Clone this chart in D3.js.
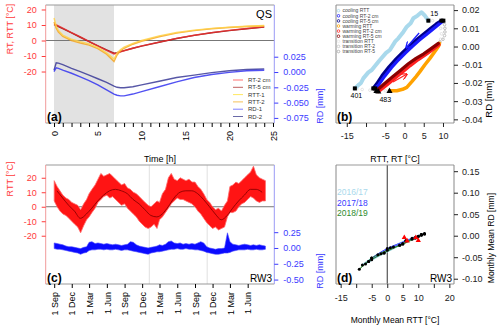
<!DOCTYPE html>
<html>
<head>
<meta charset="utf-8">
<script src="https://cdn.jsdelivr.net/npm/d3@7"></script>
<style>
    body { margin: 0; background: #ffffff; }
    svg text { font-family: "Liberation Sans", Arial, Helvetica, sans-serif; }
</style>
</head>
<body>
<div id="chart"></div>
<script>
//------------------------------- DATA -------------------------------

// (a) QS lab test, 24 h
var qsHours = [0, 0.25, 0.5, 1, 2, 3, 4, 5, 6, 6.85, 7.2, 7.6, 8, 9, 10, 12, 14, 16, 18, 20, 22, 24];
var qsRT2  = [10.8, 10.1, 9.4, 8.0, 5.1, 2.3, -0.6, -3.4, -6.3, -8.7, -8.1, -7.3, -6.6, -5.0, -3.5, -1.0, 1.4, 3.4, 5.1, 6.5, 7.7, 8.8];
var qsRT5  = [10.3, 9.7, 9.0, 7.7, 4.9, 2.1, -0.7, -3.4, -6.1, -8.2, -7.8, -7.1, -6.5, -5.0, -3.6, -1.1, 1.3, 3.3, 5.0, 6.4, 7.6, 8.6];
var qsRTT1 = [14.5, 9.5, 6.5, 3.5, 0.8, -0.8, -2.2, -4.5, -8.0, -12.0, -8.0, -5.8, -4.3, -1.8, 0.0, 3.0, 5.2, 6.7, 7.8, 8.6, 9.2, 9.7];
var qsRTT2 = [12.0, 8.0, 5.5, 2.6, 0.0, -1.6, -3.0, -5.2, -8.8, -13.6, -9.3, -6.6, -5.0, -2.4, -0.5, 2.4, 4.8, 6.4, 7.6, 8.4, 9.0, 9.4];
var qsRD1  = [0.0005, 0.007, 0.006, 0.003, -0.002, -0.008, -0.014, -0.021, -0.029, -0.036, -0.038, -0.039, -0.039, -0.036, -0.032, -0.024, -0.016, -0.009, -0.004, -0.0005, 0.002, 0.003];
var qsRD2  = [0.003, 0.015, 0.0145, 0.012, 0.006, 0.0005, -0.005, -0.011, -0.017, -0.023, -0.025, -0.0258, -0.0258, -0.024, -0.021, -0.015, -0.009, -0.005, -0.001, 0.002, 0.004, 0.005];
var qsCooling = [0, 6.85];
var qsNames = ["RT-2 cm", "RT-5 cm", "RTT-1", "RTT-2", "RD-1", "RD-2"];

// (b) hysteresis of the QS test  [temperature, RD]
var hysCoolRTT = [[6.2,0.0142],[5.2,0.0172],[4.4,0.0188],[3.4,0.0170],[2.3,0.0155],[1.6,0.0128],[0.6,0.0109],[-0.3,0.0080],[-1.6,0.0045],[-2.4,0.0028],[-3.8,-0.0019],[-4.8,-0.0035],[-6.4,-0.0074],[-7.2,-0.0095],[-8.5,-0.0129],[-9.4,-0.0142],[-10.7,-0.0175],[-11.3,-0.0200],[-12.0,-0.0212],[-12.9,-0.0230]];
var hysCoolRT2 = [[10.1,0.0142],[8.8,0.0120],[7.2,0.0092],[5.6,0.0064],[3.8,0.0034],[2.0,0.0000],[0.2,-0.0036],[-1.6,-0.0074],[-3.4,-0.0116],[-5.2,-0.0164],[-6.6,-0.0207],[-7.6,-0.0230]];
var hysCoolRT5 = [[9.6,0.0142],[8.2,0.0122],[6.6,0.0095],[5.0,0.0068],[3.2,0.0038],[1.4,0.0004],[-0.4,-0.0032],[-2.2,-0.0070],[-4.0,-0.0112],[-5.8,-0.0160],[-7.2,-0.0205],[-8.1,-0.0230]];
var hysWarmRTT = [[-3.9,-0.0243],[-2.0,-0.0243],[-0.5,-0.0235],[0.6,-0.0224],[1.9,-0.0193],[3.0,-0.0165],[4.0,-0.0138],[5.3,-0.0100],[6.6,-0.0065],[7.8,-0.0030],[8.8,0.0000],[9.1,0.0017]];
var hysWarmRT2 = [[-6.8,-0.0248],[-4.5,-0.0210],[-2.5,-0.0175],[-0.5,-0.0140],[1.5,-0.0105],[3.5,-0.0073],[5.5,-0.0045],[7.5,-0.0015],[9.0,0.0010]];
var hysWarmRT5 = [[-7.3,-0.0243],[-5.0,-0.0200],[-3.0,-0.0165],[-1.0,-0.0130],[1.0,-0.0095],[3.0,-0.0065],[5.0,-0.0040],[7.0,-0.0010],[8.8,0.0017]];
var hysTransRTT = [[-12.4,-0.0233],[-11,-0.0236],[-9,-0.024],[-7,-0.0242],[-5,-0.0243],[9.4,0.004],[9.6,0.007],[9.4,0.010],[8.5,0.013],[7.3,0.0142]];
var hysTransRT = [[9.2,0.0025],[10.0,0.004],[10.4,0.006],[10.5,0.008],[10.5,0.010],[10.4,0.012],[10.2,0.0135],[-8.0,-0.0236],[-7.6,-0.0240]];
var hysStarts = [[6.2,0.0142],[9.6,0.0142],[10.1,0.0142],[-12.9,-0.0230],[-8.1,-0.0230],[-7.6,-0.0230]];
var hysTurns = [[-7.3,-0.0245],[-6.8,-0.0248],[-3.9,-0.0245]];
var hysHourLabels = [["15", 7.7, 0.0165], ["401", -12.5, -0.0283], ["483", -5.0, -0.0305]];
var hysArrows = [[[3.8,0.0074],[0.4,-0.0008]], [[-3.0,-0.0195],[0.65,-0.0151]]];
var hysNames = ["cooling RTT","cooling RT-2 cm","cooling RT-5 cm","warming RTT","warming RT-2 cm","warming RT-5 cm","transition RTT","transition RT-2","transition RT-5"];

// (c) RW3 field series, half-monthly envelope from 1 Sep 2016 to 1 Sep 2019
var rttHi = [18,14,11,8,6,5,3,2,1,-2,2,5,9,12,15,19,23,21,22,23,21,19,17,15,16,13,12,10,9,7,5,3,1,0,2,4,3,9,12,20,23,19,18,20,19,18,19,17,17,14,12,9,5,3,0,-2,-1,-3,1,4,14,15,17,16,18,20,22,24,28,22,20,19,18];
var rttLo = [4,0,-3,-5,-6,-8,-10,-12,-14,-18,-13,-9,-7,-4,-1,3,5,7,8,6,7,5,3,1,2,-1,-3,-5,-7,-10,-12,-14,-15,-14,-12,-15,-9,-7,-4,-1,2,4,6,5,5,4,3,2,0,-3,-5,-8,-11,-13,-15,-14,-16,-15,-14,-7,-4,-4,-3,0,2,3,5,7,6,4,3,4,4];
var rdHi = [0.08,0.07,0.06,0.05,0.03,0.02,0.02,0.01,0.0,-0.01,0.01,0.02,0.09,0.10,0.07,0.08,0.07,0.06,0.07,0.06,0.05,0.06,0.05,0.04,0.05,0.06,0.10,0.09,0.05,0.03,0.02,0.01,0.0,0.01,0.02,0.03,0.05,0.04,0.06,0.10,0.11,0.08,0.07,0.08,0.06,0.07,0.06,0.07,0.06,0.08,0.10,0.08,0.02,0.0,-0.01,-0.02,-0.01,-0.01,0.0,0.24,0.10,0.06,0.05,0.04,0.05,0.06,0.05,0.04,0.05,0.04,0.05,0.04,0.03];
var rdLo = [-0.01,-0.02,-0.02,-0.03,-0.04,-0.05,-0.06,-0.07,-0.08,-0.10,-0.08,-0.07,-0.04,-0.03,-0.03,-0.02,-0.02,-0.03,-0.02,-0.03,-0.03,-0.02,-0.03,-0.04,-0.03,-0.03,-0.04,-0.05,-0.06,-0.07,-0.08,-0.09,-0.10,-0.08,-0.07,-0.06,-0.06,-0.05,-0.04,-0.03,-0.02,-0.02,-0.01,-0.02,-0.02,-0.01,-0.02,-0.02,-0.03,-0.03,-0.04,-0.05,-0.07,-0.08,-0.09,-0.10,-0.10,-0.09,-0.08,-0.08,-0.07,-0.05,-0.04,-0.03,-0.03,-0.03,-0.02,-0.03,-0.03,-0.02,-0.03,-0.03,-0.02];
var rttMonthly = [11,6,1,-3,-8,-5,-1,4,8,11,12,11, 9,5,2,-2,-6,-7,-5,0,6,10,11,11, 9,5,0,-5,-9,-6,-1,4,8,12,12,10];
var rwMarkDates = ["2018-01-07", "2018-11-03"];

// (d) monthly means per year (Sep..Aug)
var mmYears = ["2016/17", "2017/18", "2018/19"];
var mmRD1617 = [0.003,-0.012,-0.028,-0.044,-0.068,-0.056,-0.040,-0.022,-0.006,0.002,0.005,0.002];
var mmRD1718 = [-0.004,-0.018,-0.026,-0.042,-0.060,-0.066,-0.052,-0.030,-0.012,-0.001,0.002,0.001];
var mmRD1819 = [-0.006,-0.020,-0.034,-0.052,-0.078,-0.060,-0.040,-0.022,-0.008,0.004,0.004,-0.002];
var mmRedMarks = [[5.5,-0.004],[6.4,-0.012],[9.2,-0.004],[10.0,-0.011]];

//------------------------------- DRAWING -------------------------------

function fmt(p) {
    var f = d3.format(p);
    return function(d) { return f(d).replace("\u2212", "-"); };
}

function init() {
    var svg = d3.select("#chart").append("svg")
                .attr("width", 500)
                .attr("height", 330);

    var boxA = {x0: 45.7, x1: 274.3, y0: 5, y1: 123};
    var boxB = {x0: 336, x1: 454, y0: 5, y1: 123};
    var boxC = {x0: 45.7, x1: 274.3, y0: 165, y1: 284};
    var boxD = {x0: 336, x1: 454, y0: 165, y1: 284};

    var defs = svg.append("defs");
    [["clipA", boxA], ["clipB", boxB], ["clipC", boxC], ["clipD", boxD]].forEach(function(c) {
        defs.append("clipPath").attr("id", c[0]).append("rect")
            .attr("x", c[1].x0).attr("y", c[1].y0)
            .attr("width", c[1].x1 - c[1].x0).attr("height", c[1].y1 - c[1].y0);
    });
    ["#1a1aff", "#ff2020"].forEach(function(col, i) {
        defs.append("marker").attr("id", "arr" + i)
            .attr("viewBox", "0 0 10 10").attr("refX", 9).attr("refY", 5)
            .attr("markerWidth", 5).attr("markerHeight", 5).attr("orient", "auto")
            .append("path").attr("d", "M0,0 L10,5 L0,10").attr("fill", "none")
            .attr("stroke", col).attr("stroke-width", 2);
    });

    function styleAxis(g, col, size) {
        g.attr("font-size", size || 9)
         .attr("font-family", "Liberation Sans, Arial, sans-serif")
         .attr("color", col);
        g.select(".domain").remove();
    }

    function frame(b, leftCol, rightCol) {
        var g = svg.append("g").attr("fill", "none").attr("stroke-width", 1);
        g.append("line").attr("x1", b.x0).attr("x2", b.x1).attr("y1", b.y0).attr("y2", b.y0).attr("stroke", "#999");
        g.append("line").attr("x1", b.x0).attr("x2", b.x1).attr("y1", b.y1).attr("y2", b.y1).attr("stroke", "#999");
        g.append("line").attr("x1", b.x0).attr("x2", b.x0).attr("y1", b.y0).attr("y2", b.y1).attr("stroke", leftCol);
        g.append("line").attr("x1", b.x1).attr("x2", b.x1).attr("y1", b.y0).attr("y2", b.y1).attr("stroke", rightCol);
    }

    function label(x, y, txt, opts) {
        var t = svg.append("text").attr("x", x).attr("y", y).text(txt)
            .attr("font-size", opts.size || 9)
            .attr("fill", opts.color || "#000")
            .attr("text-anchor", opts.anchor || "middle");
        if (opts.bold) t.attr("font-weight", "bold");
        if (opts.rotate) t.attr("transform", "rotate(-90," + x + "," + y + ")");
        return t;
    }

    //-------- PANEL (a): QS --------
    var xA = d3.scaleLinear().domain([-0.95, 25.15]).range([boxA.x0, boxA.x1]);
    var yA = d3.scaleLinear().domain([-53.2, 22.9]).range([boxA.y1, boxA.y0]);
    var yARD = d3.scaleLinear().domain([-0.0833, 0.1095]).range([boxA.y1, boxA.y0]);

    var gA = svg.append("g").attr("clip-path", "url(#clipA)");
    gA.append("rect")
        .attr("x", xA(qsCooling[0])).attr("y", boxA.y0)
        .attr("width", xA(qsCooling[1]) - xA(qsCooling[0]))
        .attr("height", boxA.y1 - boxA.y0)
        .attr("fill", "#e2e2e2");
    gA.append("line").attr("x1", boxA.x0).attr("x2", boxA.x1)
        .attr("y1", yA(0)).attr("y2", yA(0)).attr("stroke", "#777").attr("stroke-width", 1);

    var qsSeries = [
        {v: qsRD2, s: yARD, c: "#3a3a96"},
        {v: qsRD1, s: yARD, c: "#3434f0"},
        {v: qsRT5, s: yA, c: "#8b0000"},
        {v: qsRT2, s: yA, c: "#e83030"},
        {v: qsRTT2, s: yA, c: "#f5a623"},
        {v: qsRTT1, s: yA, c: "#ffd24a"}
    ];
    qsSeries.forEach(function(ser) {
        var line = d3.line()
            .x(function(d, i) { return xA(qsHours[i]); })
            .y(function(d) { return ser.s(d); });
        gA.append("path").datum(ser.v).attr("d", line)
            .attr("fill", "none").attr("stroke", ser.c)
            .attr("stroke-width", 1.4).attr("stroke-opacity", 0.85);
    });

    frame(boxA, "#f19a9a", "#9a9af5");

    svg.append("g").attr("transform", "translate(" + boxA.x0 + ",0)")
        .call(d3.axisLeft(yA).tickValues([-20, -10, 0, 10, 20]).tickSize(4).tickPadding(5).tickFormat(fmt("d")))
        .call(function(g) { styleAxis(g, "#ff3a3a"); });
    svg.append("g").attr("transform", "translate(" + boxA.x1 + ",0)")
        .call(d3.axisRight(yARD).tickValues([0.025, 0, -0.025, -0.05, -0.075]).tickSize(4).tickPadding(5).tickFormat(fmt(".3f")))
        .call(function(g) { styleAxis(g, "#3a3aff"); });
    svg.append("g").attr("transform", "translate(0," + boxA.y1 + ")")
        .call(d3.axisBottom(xA).tickValues(d3.range(0, 26)).tickSize(4)
            .tickFormat(function(d) { return d % 5 === 0 ? d : ""; }))
        .call(function(g) {
            styleAxis(g, "#000");
            g.selectAll("text").attr("transform", "rotate(-90)")
                .attr("x", -8).attr("y", 0).attr("dy", "0.35em")
                .style("text-anchor", "end");
        });

    // legend (a)
    var legA = svg.append("g");
    var legCols = ["#ff7070", "#c06060", "#ffe860", "#f5c25a", "#8080ff", "#6a6aa8"];
    qsNames.forEach(function(n, i) {
        var y = 80 + i * 7.3;
        legA.append("line").attr("x1", 233).attr("x2", 243).attr("y1", y).attr("y2", y)
            .attr("stroke", legCols[i]).attr("stroke-width", 1);
        legA.append("text").attr("x", 248).attr("y", y + 2).text(n)
            .attr("font-size", 6).attr("fill", "#333");
    });

    label(272, 18, "QS", {size: 11, anchor: "end"});
    label(47, 121, "(a)", {size: 12, bold: true, anchor: "start"});
    label(13, 29, "RT, RTT [\u00b0C]", {size: 9, color: "#ff3a3a", rotate: true});
    label(323, 106, "RD [mm]", {size: 9, color: "#3a3aff", rotate: true});
    label(160, 162, "Time [h]", {size: 9});

    //-------- PANEL (b): hysteresis --------
    var xB = d3.scaleLinear().domain([-17.8, 12.86]).range([boxB.x0, boxB.x1]);
    var yB = d3.scaleLinear().domain([-0.042, 0.0228]).range([boxB.y1, boxB.y0]);
    var gB = svg.append("g").attr("clip-path", "url(#clipB)");
    var lineB = d3.line().x(function(d) { return xB(d[0]); }).y(function(d) { return yB(d[1]); });

    gB.selectAll(".trT").data(hysTransRTT).enter().append("circle")
        .attr("cx", function(d) { return xB(d[0]); }).attr("cy", function(d) { return yB(d[1]); })
        .attr("r", 1.3).attr("fill", "none").attr("stroke", "#dcdcdc").attr("stroke-width", 0.8);
    gB.selectAll(".trR").data(hysTransRT).enter().append("circle")
        .attr("cx", function(d) { return xB(d[0]); }).attr("cy", function(d) { return yB(d[1]); })
        .attr("r", 1.3).attr("fill", "none").attr("stroke", "#b0b0b0").attr("stroke-width", 0.8);

    var hysSeries = [
        {v: hysCoolRTT, c: "#a9d9ec", w: 4},
        {v: hysWarmRTT, c: "#ffa200", w: 3.5},
        {v: hysCoolRT5, c: "#00008b", w: 3.5},
        {v: hysCoolRT2, c: "#1a1aff", w: 3.2},
        {v: hysWarmRT2, c: "#ff2020", w: 3.2},
        {v: hysWarmRT5, c: "#8b0000", w: 3.2}
    ];
    hysSeries.forEach(function(s) {
        gB.append("path").datum(s.v).attr("d", lineB)
            .attr("fill", "none").attr("stroke", s.c).attr("stroke-width", s.w)
            .attr("stroke-linejoin", "round").attr("stroke-linecap", "round");
    });

    gB.selectAll(".sq").data(hysStarts).enter().append("rect")
        .attr("x", function(d) { return xB(d[0]) - 2; }).attr("y", function(d) { return yB(d[1]) - 2; })
        .attr("width", 4).attr("height", 4).attr("fill", "#000");
    gB.selectAll(".tri").data(hysTurns).enter().append("path")
        .attr("d", d3.symbol().type(d3.symbolTriangle).size(16))
        .attr("transform", function(d) { return "translate(" + xB(d[0]) + "," + yB(d[1]) + ")"; })
        .attr("fill", "#000");
    hysArrows.forEach(function(a, i) {
        gB.append("path").datum(a).attr("d", lineB)
            .attr("stroke", i === 0 ? "#1a1aff" : "#ff2020").attr("stroke-width", 1.3)
            .attr("fill", "none").attr("marker-end", "url(#arr" + i + ")");
    });
    hysHourLabels.forEach(function(h) {
        gB.append("text").attr("x", xB(h[1])).attr("y", yB(h[2])).text(h[0])
            .attr("font-size", 7).attr("text-anchor", "middle").attr("fill", "#000");
    });

    var hysLegCols = ["#a9d9ec", "#1a1aff", "#00008b", "#ffa200", "#ff2020", "#8b0000", "#e6e6e6", "#c4c4c4", "#a8a8a8"];
    hysNames.forEach(function(n, i) {
        var y = 10.7 + i * 5.1;
        svg.append("circle").attr("cx", 338.5).attr("cy", y).attr("r", 1.3)
            .attr("fill", "none").attr("stroke", hysLegCols[i]).attr("stroke-width", 0.8);
        svg.append("text").attr("x", 342.5).attr("y", y + 1.7).text(n)
            .attr("font-size", 5).attr("fill", "#444");
    });

    frame(boxB, "#888", "#888");
    svg.append("g").attr("transform", "translate(" + boxB.x1 + ",0)")
        .call(d3.axisRight(yB).tickValues([0.02, 0.01, 0, -0.01, -0.02, -0.03, -0.04]).tickSize(4).tickPadding(4).tickFormat(fmt(".2f")))
        .call(function(g) { styleAxis(g, "#222"); });
    svg.append("g").attr("transform", "translate(0," + boxB.y1 + ")")
        .call(d3.axisBottom(xB).tickValues([-15, -10, -5, 0, 5, 10]).tickSize(4).tickPadding(6)
            .tickFormat(function(d) { return d === -10 ? "" : fmt("d")(d); }))
        .call(function(g) { styleAxis(g, "#222"); });

    label(337, 121, "(b)", {size: 12, bold: true, anchor: "start"});
    label(492, 99, "RD [mm]", {size: 9.5, rotate: true});
    label(395, 162, "RTT, RT [\u00b0C]", {size: 8.8});

    //-------- PANEL (c): RW3 time series --------
    var rwDates = [];
    for (var m = 0; m < 36; m++) {
        rwDates.push(new Date(2016, 8 + m, 1));
        rwDates.push(new Date(2016, 8 + m, 16));
    }
    rwDates.push(new Date(2019, 8, 1));
    var rwMonths = rttMonthly.map(function(d, i) { return new Date(2016, 8 + i, 15); });

    var xC = d3.scaleTime().domain([new Date(2016, 6, 19), new Date(2019, 9, 17)]).range([boxC.x0, boxC.x1]);
    var yC = d3.scaleLinear().domain([-53.3, 28.8]).range([boxC.y1, boxC.y0]);
    var yCRD = d3.scaleLinear().domain([-0.57, 1.313]).range([boxC.y1, boxC.y0]);
    var gC = svg.append("g").attr("clip-path", "url(#clipC)");

    rwMarkDates.forEach(function(s) {
        var x = xC(d3.timeParse("%Y-%m-%d")(s));
        gC.append("line").attr("x1", x).attr("x2", x).attr("y1", boxC.y0).attr("y2", boxC.y1)
            .attr("stroke", "#e0e0e0").attr("stroke-width", 1);
    });
    gC.append("line").attr("x1", boxC.x0).attr("x2", boxC.x1)
        .attr("y1", yC(0)).attr("y2", yC(0)).attr("stroke", "#777").attr("stroke-width", 1);

    // envelope of the noisy RTT record
    var areaT = d3.area()
        .x(function(d, i) { return xC(rwDates[i]); })
        .y0(function(d, i) { return yC(rttLo[i]); })
        .y1(function(d, i) { return yC(rttHi[i]); });
    gC.append("path").datum(rttHi).attr("d", areaT)
        .attr("fill", "#ff1414").attr("stroke", "#ff6a6a").attr("stroke-width", 0.8);

    var lineSm = d3.line().curve(d3.curveMonotoneX)
        .x(function(d, i) { return xC(rwMonths[i]); })
        .y(function(d) { return yC(d); });
    gC.append("path").datum(rttMonthly).attr("d", lineSm)
        .attr("fill", "none").attr("stroke", "#8b0000").attr("stroke-width", 0.9);

    var areaD = d3.area()
        .x(function(d, i) { return xC(rwDates[i]); })
        .y0(function(d, i) { return yCRD(rdLo[i]); })
        .y1(function(d, i) { return yCRD(rdHi[i]); });
    gC.append("path").datum(rdHi).attr("d", areaD)
        .attr("fill", "#0a0aff").attr("stroke", "#4a4aff").attr("stroke-width", 0.6);

    frame(boxC, "#f19a9a", "#9a9af5");
    svg.append("g").attr("transform", "translate(" + boxC.x0 + ",0)")
        .call(d3.axisLeft(yC).tickValues([-20, -10, 0, 10, 20]).tickSize(4).tickPadding(5).tickFormat(fmt("d")))
        .call(function(g) { styleAxis(g, "#ff3a3a"); });
    svg.append("g").attr("transform", "translate(" + boxC.x1 + ",0)")
        .call(d3.axisRight(yCRD).tickValues([0.25, 0, -0.25, -0.5]).tickSize(4).tickPadding(5).tickFormat(fmt(".2f")))
        .call(function(g) { styleAxis(g, "#3a3aff"); });
    svg.append("g").attr("transform", "translate(0," + boxC.y1 + ")")
        .call(d3.axisBottom(xC).tickValues(d3.timeMonth.range(new Date(2016, 8, 1), new Date(2019, 6, 1), 3))
            .tickSize(4).tickFormat(d3.timeFormat("%-d %b")))
        .call(function(g) {
            styleAxis(g, "#000");
            g.selectAll("text").attr("transform", "rotate(-90)")
                .attr("x", -8).attr("y", 0).attr("dy", "0.35em")
                .style("text-anchor", "end");
        });

    label(47, 282, "(c)", {size: 12, bold: true, anchor: "start"});
    label(272, 282, "RW3", {size: 10, anchor: "end"});
    label(13, 179, "RTT [\u00b0C]", {size: 9, color: "#ff3a3a", rotate: true});
    label(323, 271, "RD [mm]", {size: 9, color: "#3a3aff", rotate: true});

    //-------- PANEL (d): monthly means --------
    var xD = d3.scaleLinear().domain([-16.5, 21.5]).range([boxD.x0, boxD.x1]);
    var yD = d3.scaleLinear().domain([-0.1123, 0.1644]).range([boxD.y1, boxD.y0]);
    var gD = svg.append("g").attr("clip-path", "url(#clipD)");

    gD.append("line").attr("x1", xD(0)).attr("x2", xD(0)).attr("y1", boxD.y0).attr("y2", boxD.y1)
        .attr("stroke", "#333").attr("stroke-width", 1);

    var mmRD = [mmRD1617, mmRD1718, mmRD1819];
    var mmCols = ["#a9d9ec", "#3b3bff", "#2e8b2e"];
    var mmPts = [];
    mmRD.forEach(function(rd, y) {
        var pts = rd.map(function(v, i) { return [rttMonthly[y * 12 + i], v]; });
        mmPts = mmPts.concat(pts);
        gD.append("path").datum(pts)
            .attr("d", d3.line().curve(d3.curveCatmullRom)
                .x(function(d) { return xD(d[0]); }).y(function(d) { return yD(d[1]); }))
            .attr("fill", "none").attr("stroke", mmCols[y]).attr("stroke-width", y === 0 ? 2 : 1);
    });
    gD.selectAll(".mm").data(mmPts).enter().append("circle")
        .attr("cx", function(d) { return xD(d[0]); }).attr("cy", function(d) { return yD(d[1]); })
        .attr("r", 1.5).attr("fill", "#000");
    gD.selectAll(".rm").data(mmRedMarks).enter().append("path")
        .attr("d", d3.symbol().type(d3.symbolTriangle).size(12))
        .attr("transform", function(d) { return "translate(" + xD(d[0]) + "," + yD(d[1]) + ")"; })
        .attr("fill", "#ff0000");

    mmYears.forEach(function(n, i) {
        svg.append("text").attr("x", 337).attr("y", 195 + i * 10.5).text(n)
            .attr("font-size", 8.5).attr("fill", mmCols[i]);
    });

    frame(boxD, "#888", "#888");
    svg.append("g").attr("transform", "translate(" + boxD.x1 + ",0)")
        .call(d3.axisRight(yD).tickValues([0.15, 0.1, 0.05, 0, -0.05, -0.1]).tickSize(4).tickPadding(4).tickFormat(fmt(".2f")))
        .call(function(g) { styleAxis(g, "#222"); });
    svg.append("g").attr("transform", "translate(0," + boxD.y1 + ")")
        .call(d3.axisBottom(xD).tickValues([-15, -10, -5, 0, 5, 10, 15, 20]).tickSize(4).tickPadding(7)
            .tickFormat(function(d) { return (d === -10 || d === 15) ? "" : fmt("d")(d); }))
        .call(function(g) { styleAxis(g, "#222"); });

    label(337, 282, "(d)", {size: 12, bold: true, anchor: "start"});
    label(452, 282, "RW3", {size: 10, anchor: "end"});
    label(395, 323, "Monthly Mean RTT [\u00b0C]", {size: 8.5});
    label(494, 238, "Monthly Mean RD [mm]", {size: 8.6, rotate: true});
}

window.onload = init;
</script>
</body>
</html>
